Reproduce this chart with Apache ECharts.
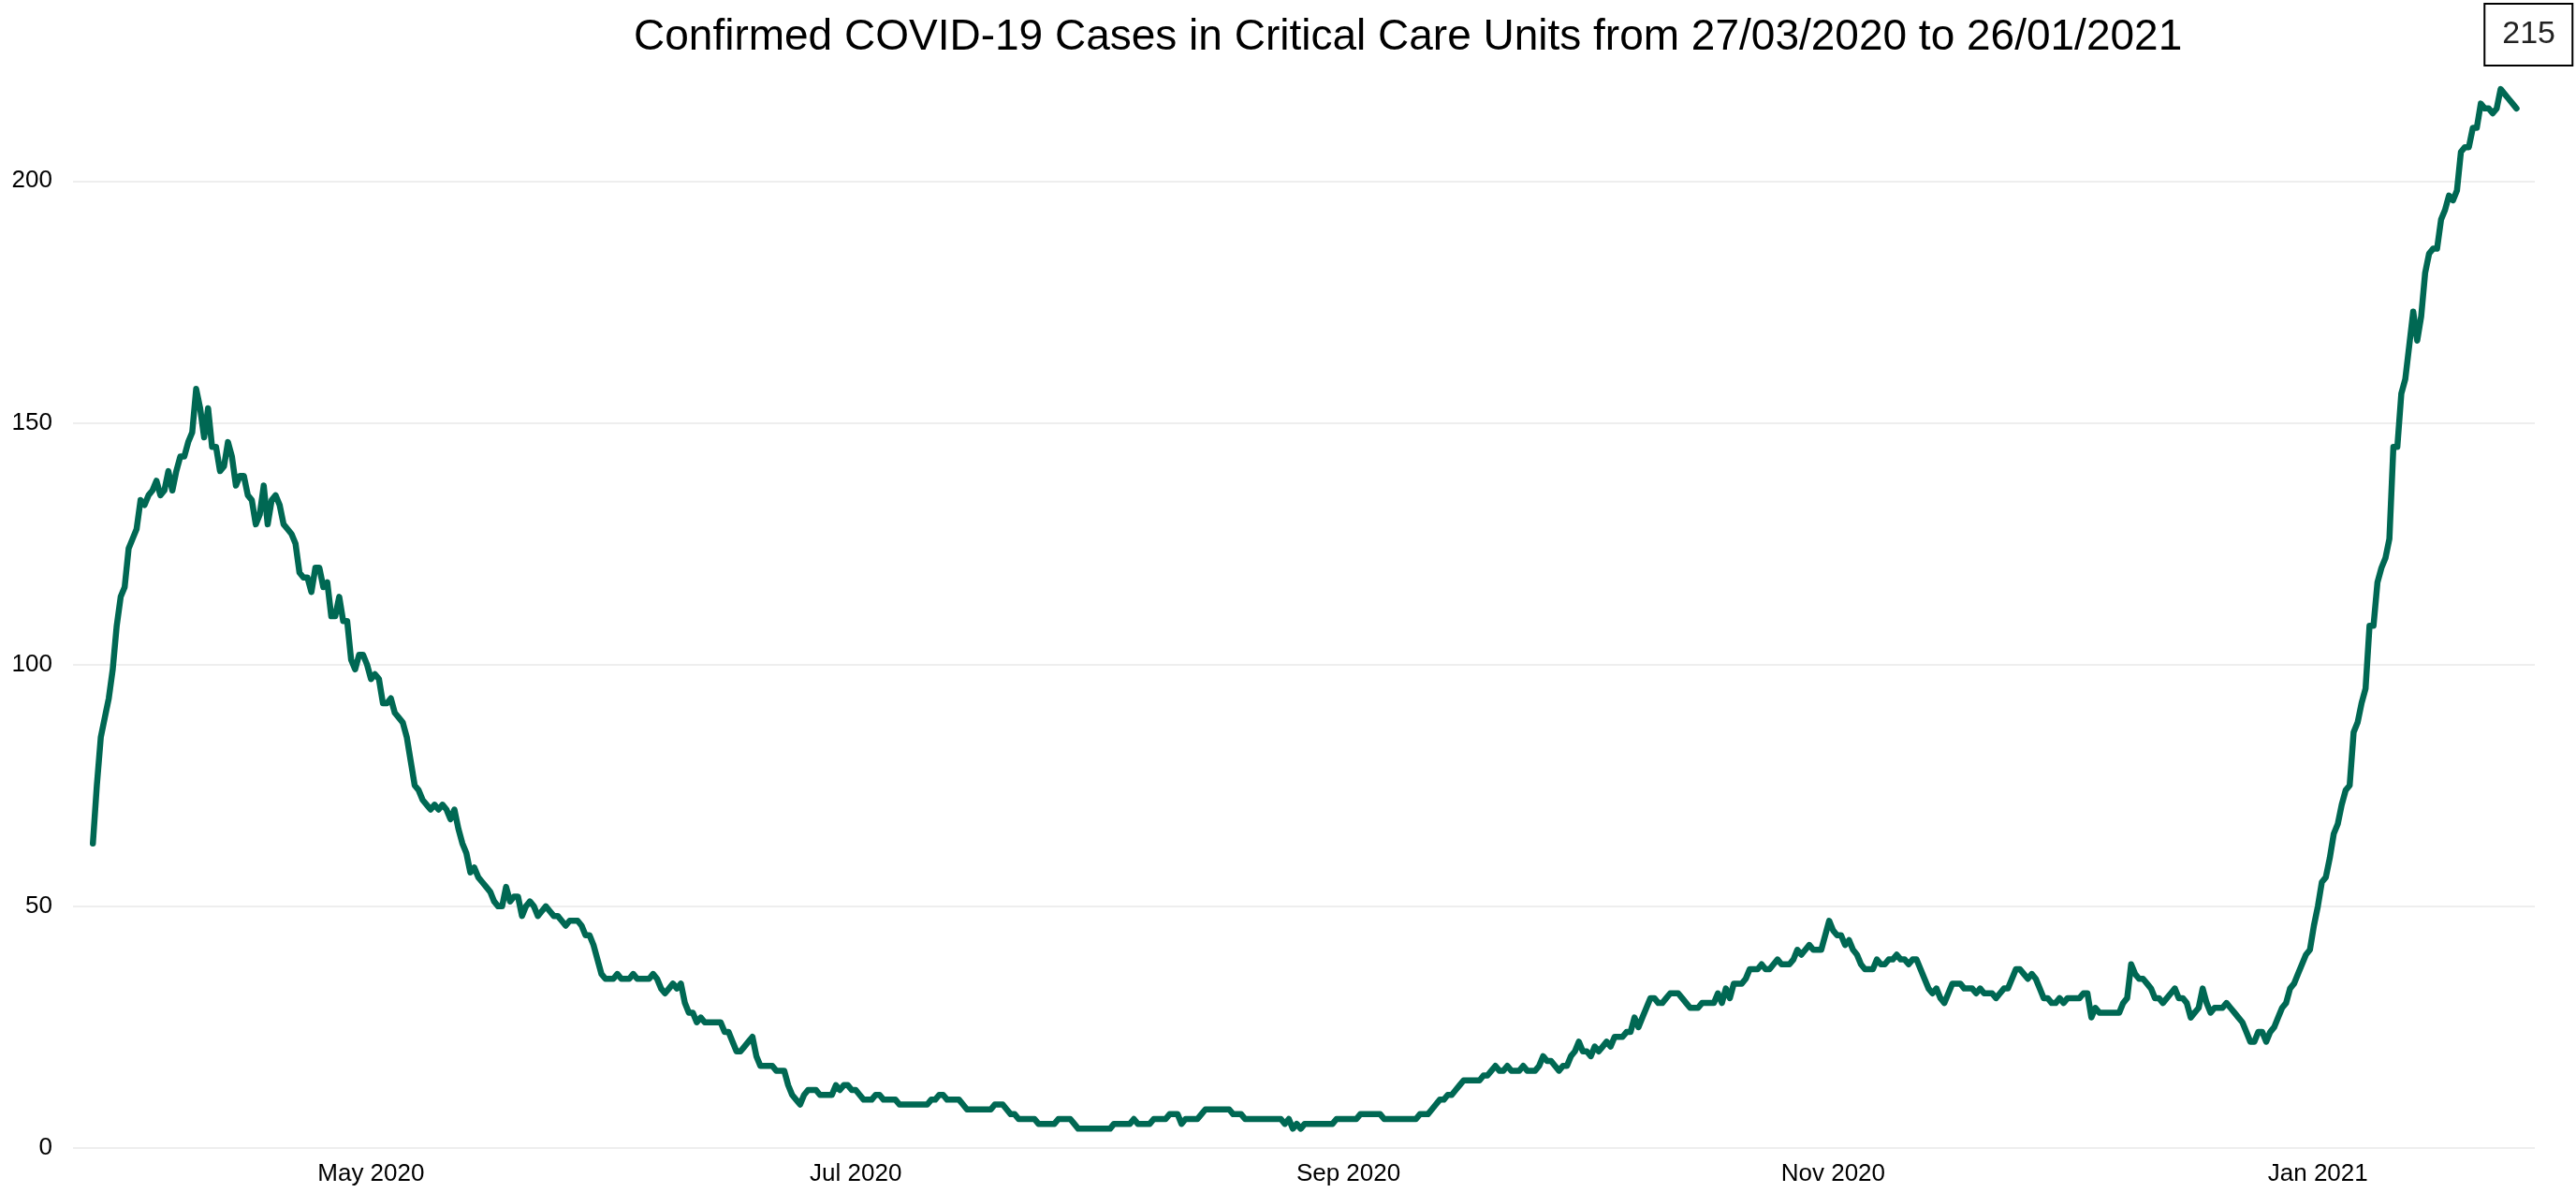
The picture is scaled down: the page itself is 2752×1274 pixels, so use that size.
<!DOCTYPE html>
<html>
<head>
<meta charset="utf-8">
<title>Critical Care COVID-19</title>
<script src="https://cdn.jsdelivr.net/npm/echarts@6/dist/echarts.min.js"></script>
<style>
  html, body { margin: 0; padding: 0; background: #fff; }
  #chart { width: 2752px; height: 1274px; }
</style>
</head>
<body>
<div id="chart"></div>
<script>
// readings every 12 hours, first one on 27/03/2020
const startDate = new Date(2020, 2, 27).getTime();
const stepMs = 12 * 3600 * 1000;

const march = [63, 75, 85, 89, 93, 99, 108, 114, 116, 124];
const april = [
  126, 128, 134, 133, 135, 136, 138, 135, 136, 140,
  136, 140, 143, 143, 146, 148, 157, 153, 147, 153,
  145, 145, 140, 141, 146, 143, 137, 139, 139, 135,
  134, 129, 131, 137, 129, 134, 135, 133, 129, 128,
  127, 125, 119, 118, 118, 115, 120, 120, 116, 117,
  110, 110, 114, 109, 109, 101, 99, 102, 102, 100
];
const may = [
  97, 98, 97, 92, 92, 93, 90, 89, 88, 85,
  80, 75, 74, 72, 71, 70, 71, 70, 71, 70,
  68, 70, 66, 63, 61, 57, 58, 56, 55, 54,
  53, 51, 50, 50, 54, 51, 52, 52, 48, 50,
  51, 50, 48, 49, 50, 49, 48, 48, 47, 46,
  47, 47, 47, 46, 44, 44, 42, 39, 36, 35,
  35, 35
];
const june = [
  36, 35, 35, 35, 36, 35, 35, 35,
  35, 36, 35, 33, 32, 33, 34, 33, 34, 30,
  28, 28, 26, 27, 26, 26, 26, 26, 26, 24,
  24, 22, 20, 20, 21, 22, 23, 19, 17, 17,
  17, 17, 16, 16, 16, 13, 11, 10, 9, 11,
  12, 12, 12, 11, 11, 11, 11, 13, 12, 13,
  13, 12
];
const july = [
  12, 11, 10, 10, 10, 11, 11, 10,
  10, 10, 10, 9, 9, 9, 9, 9, 9, 9,
  9, 10, 10, 11, 11, 10, 10, 10, 10, 9,
  8, 8, 8, 8, 8, 8, 8, 9, 9, 9,
  8, 7, 7, 6, 6, 6, 6, 6, 5, 5,
  5, 5, 5, 6, 6, 6, 6, 5, 4, 4,
  4, 4, 4, 4
];
const august = [
  4, 4, 4, 5, 5, 5,
  5, 5, 6, 5, 5, 5, 5, 6, 6, 6,
  6, 7, 7, 7, 5, 6, 6, 6, 6, 7,
  8, 8, 8, 8, 8, 8, 8, 7, 7, 7,
  6, 6, 6, 6, 6, 6, 6, 6, 6, 6,
  5, 6, 4, 5, 4, 5, 5, 5, 5, 5,
  5, 5, 5, 6, 6, 6
];
const september = [
  6, 6, 6, 7,
  7, 7, 7, 7, 7, 6, 6, 6, 6, 6,
  6, 6, 6, 6, 7, 7, 7, 8, 9, 10,
  10, 11, 11, 12, 13, 14, 14, 14, 14, 14,
  15, 15, 16, 17, 16, 16, 17, 16, 16, 16,
  17, 16, 16, 16, 17, 19, 18, 18, 17, 16,
  17, 17, 19, 20, 22, 20
];
const october = [
  20, 19, 21, 20,
  21, 22, 21, 23, 23, 23, 24, 24, 27, 25,
  27, 29, 31, 31, 30, 30, 31, 32, 32, 32,
  31, 30, 29, 29, 29, 30, 30, 30, 30, 32,
  30, 33, 31, 34, 34, 34, 35, 37, 37, 37,
  38, 37, 37, 38, 39, 38, 38, 38, 39, 41,
  40, 41, 42, 41, 41, 41, 44, 47
];
const november = [
  45, 44,
  44, 42, 43, 41, 40, 38, 37, 37, 37, 39,
  38, 38, 39, 39, 40, 39, 39, 38, 39, 39,
  37, 35, 33, 32, 33, 31, 30, 32, 34, 34,
  34, 33, 33, 33, 32, 33, 32, 32, 32, 31,
  32, 33, 33, 35, 37, 37, 36, 35, 36, 35,
  33, 31, 31, 30, 30, 31, 30, 31
];
const december = [
  31, 31,
  31, 32, 32, 27, 29, 28, 28, 28, 28, 28,
  28, 30, 31, 38, 36, 35, 35, 34, 33, 31,
  31, 30, 31, 32, 33, 31, 31, 30, 27, 28,
  29, 33, 30, 28, 29, 29, 29, 30, 29, 28,
  27, 26, 24, 22, 22, 24, 24, 22, 24, 25,
  27, 29, 30, 33, 34, 36, 38, 40, 41, 46
];
const january = [
  50, 55, 56, 60, 65, 67, 71, 74, 75, 86,
  88, 92, 95, 108, 108, 117, 120, 122, 126, 145,
  145, 156, 159, 166, 173, 167, 172, 181, 185, 186,
  186, 192, 194, 197, 196, 198, 206, 207, 207, 211,
  211, 216, 215, 215, 214, 215, 219, 218, 217, 216, 215
];

const tickDates = ['2020/05/01', '2020/07/01', '2020/09/01', '2020/11/01', '2021/01/01'];
const tickLabels = ['May 2020', 'Jul 2020', 'Sep 2020', 'Nov 2020', 'Jan 2021'];

const values = [].concat(march, april, may, june, july, august,
  september, october, november, december, january);
const points = values.map((v, i) => [startDate + i * stepMs, v]);
const lastTime = points[points.length - 1][0];
const tickTimes = tickDates.map(d => new Date(d).getTime());
const dayMs = 24 * 3600 * 1000;

const chart = echarts.init(document.getElementById('chart'));

const option = {
  backgroundColor: '#ffffff',
  animation: false,
  textStyle: { fontFamily: 'Liberation Sans, Arial, sans-serif' },
  title: [
    {
      text: 'Confirmed COVID-19 Cases in Critical Care Units from 27/03/2020 to 26/01/2021',
      left: 672,
      top: 12,
      textStyle: { fontSize: 46, fontWeight: 'normal', color: '#000' }
    },
    {
      // latest value in a box
      text: String(values[values.length - 1]),
      right: 3,
      top: 4,
      padding: [16, 19],
      borderColor: '#000',
      borderWidth: 2,
      textStyle: { fontSize: 34, fontWeight: 'normal', color: '#222' }
    }
  ],
  grid: {
    left: 78,
    right: 44,
    top: 90,
    bottom: 48,
    containLabel: false
  },
  // x is a plain value axis holding timestamps, labelled at the month starts
  xAxis: {
    type: 'value',
    min: startDate - 2.5 * dayMs,
    max: lastTime + 2.3 * dayMs,
    axisLine: { show: false },
    axisTick: { show: false },
    splitLine: { show: false },
    axisLabel: {
      customValues: tickTimes,
      color: '#000',
      fontSize: 26,
      margin: 15,
      formatter: function (value) {
        const i = tickTimes.indexOf(value);
        return i >= 0 ? tickLabels[i] : '';
      }
    }
  },
  yAxis: {
    type: 'value',
    min: 0,
    max: 220,
    interval: 50,
    axisLine: { show: false },
    axisTick: { show: false },
    axisLabel: {
      color: '#000',
      fontSize: 26,
      margin: 22,
      showMaxLabel: false,
      formatter: function (value) {
        return value % 50 === 0 ? String(value) : '';
      }
    },
    splitLine: {
      showMaxLine: false,
      lineStyle: { color: '#eeeeee', width: 2 }
    }
  },
  series: [
    {
      name: 'Critical care',
      type: 'line',
      data: points,
      showSymbol: false,
      lineStyle: { color: '#006853', width: 6.5, join: 'round', cap: 'round' },
      itemStyle: { color: '#006853' }
    }
  ]
};

chart.setOption(option);
</script>
</body>
</html>
